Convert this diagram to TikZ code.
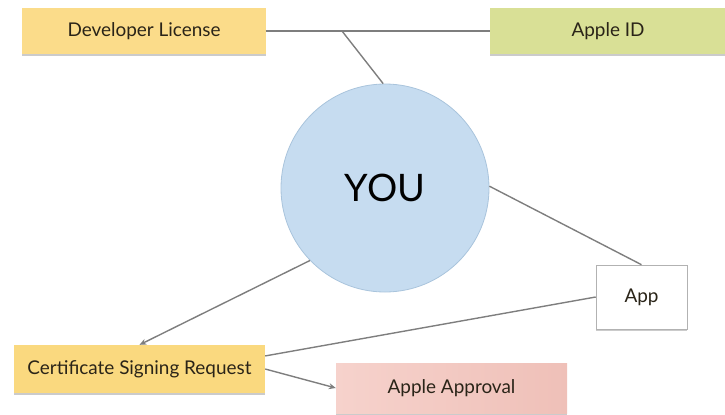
\documentclass[tikz,border=0pt]{standalone}
\usepackage{fontspec}
\setmainfont{Lato}
\usetikzlibrary{arrows.meta,shadows,calc}
\definecolor{dlyellow}{HTML}{FBDC8A}
\definecolor{appleidgreen}{HTML}{D9E096}
\definecolor{csryellow}{HTML}{FAD97F}
\definecolor{pinkL}{HTML}{F6D2CC}
\definecolor{pinkR}{HTML}{EFC0B8}
\definecolor{youfill}{HTML}{C6DCF0}
\definecolor{youdraw}{HTML}{A9C4DC}
\definecolor{linegray}{HTML}{7E7E7E}
\definecolor{txt}{HTML}{2A2418}
\tikzset{
  box/.style={rectangle, inner sep=0pt, draw=none, text=txt,
    font=\fontsize{19}{22}\selectfont,
    drop shadow={shadow xshift=0pt, shadow yshift=-1.5pt, fill=black!45, opacity=0.45}},
  conn/.style={draw=linegray, line width=1.4pt},
  arr/.style={conn, -{Stealth[length=7pt,width=6pt]}},
}
\begin{document}
\begin{tikzpicture}[x=1bp,y=-1bp]
\useasboundingbox (0,0) rectangle (725,414);
\node[box, fill=dlyellow, minimum width=243bp, minimum height=46bp] (dl) at (144,31) {Developer License};
\node[box, fill=appleidgreen, minimum width=236bp, minimum height=46bp] (aid) at (608,31) {Apple ID};
\node[circle, fill=youfill, draw=youdraw, line width=0.8pt, minimum size=208bp, inner sep=0pt,
  text=black, font=\fontsize{38}{44}\selectfont] (you) at (385,188) {YOU};
\node[box, fill=white, draw=black!30, line width=0.6pt, minimum width=91bp, minimum height=64bp] (app) at (641.5,297) {App};
\node[box, fill=csryellow, minimum width=251bp, minimum height=48bp] (csr) at (139.5,369) {Certificate Signing Request};
\node[box, left color=pinkL, right color=pinkR, minimum width=231bp, minimum height=50bp] (aa) at (451.5,388) {Apple Approval};
\draw[conn] (dl.east) -- (aid.west);
\coordinate (j) at (342,31);
\draw[conn] (j) -- (you.91);
\draw[arr] (you.224) -- (csr.north);
\draw[conn] (you.1) -- (app.north);
\draw[conn] (app.west) -- ($(csr.north east)!0.23!(csr.south east)$);
\draw[arr] (csr.east) -- (aa.west);
\end{tikzpicture}
\end{document}
